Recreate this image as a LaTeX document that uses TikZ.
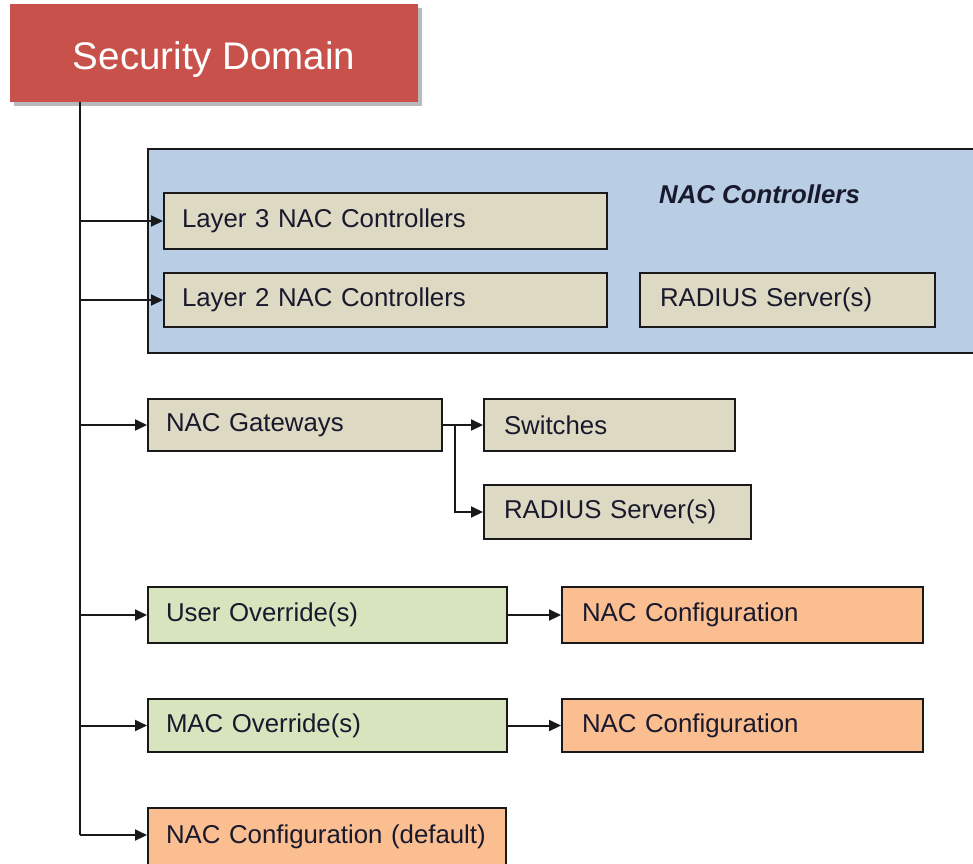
\documentclass[tikz,border=0pt]{standalone}
\usepackage{fontspec}
\setmainfont{Liberation Sans}
\usetikzlibrary{arrows.meta,shadows,calc}

\definecolor{domainred}{RGB}{200,82,75}
\definecolor{ctlblue}{RGB}{185,205,229}
\definecolor{tan}{RGB}{221,217,195}
\definecolor{lightgreen}{RGB}{215,228,189}
\definecolor{peach}{RGB}{250,190,145}
\definecolor{ink}{RGB}{25,25,45}

\begin{document}
\begin{tikzpicture}[x=1pt,y=-1pt,
  every node/.style={font=\fontsize{25.8}{28}\selectfont, text=ink},
  box/.style={draw=black!90, line width=2pt, anchor=north west,
    align=left, inner ysep=0pt, inner xsep=18pt},
  conn/.style={line width=2pt, draw=black!90,
    -{Triangle[length=12pt,width=11pt]}},
  line/.style={line width=2pt, draw=black!90}]

\useasboundingbox (0,0) rectangle (973,863);

% top-level domain
\node[draw=none, fill=domainred, anchor=north west, minimum width=408pt,
  minimum height=98pt, inner sep=0pt, text depth=0pt,
  drop shadow={shadow xshift=4pt, shadow yshift=-4pt, opacity=0.45, fill=black!60},
  text=white, font=\fontsize{38.5}{40}\selectfont] (sd) at (10,4) {\raisebox{-4pt}{Security Domain}};

% controller group
\node[draw=black!90, line width=2pt, fill=ctlblue, anchor=north west,
  minimum width=840pt, minimum height=204pt, inner sep=0pt] (ctl) at (147,148) {};
\node[anchor=west, inner sep=0pt, font=\fontsize{25.8}{28}\selectfont\bfseries\itshape]
  (ctltitle) at (659,194) {NAC Controllers};

\node[box, fill=tan, text width=407pt, minimum height=56pt] (l3) at (163,192) {Layer 3 NAC Controllers};
\node[box, fill=tan, text width=407pt, minimum height=54pt] (l2) at (163,272) {Layer 2 NAC Controllers};
\node[box, fill=tan, inner xsep=20pt, text width=255pt, minimum height=54pt] (rad1) at (639,272) {RADIUS Server(s)};

% gateways
\node[box, fill=tan, text width=258pt, minimum height=52pt] (gw) at (147,398) {NAC Gateways};
\node[box, fill=tan, inner xsep=20pt, text width=211pt, minimum height=52pt] (sw) at (483,398) {Switches};
\node[box, fill=tan, inner xsep=20pt, text width=227pt, minimum height=54pt] (rad2) at (483,484) {RADIUS Server(s)};

% overrides
\node[box, fill=lightgreen, text width=323pt, minimum height=56pt] (uo) at (147,586) {User Override(s)};
\node[box, fill=peach, inner xsep=20pt, text width=321pt, minimum height=56pt] (nc1) at (561,586) {NAC Configuration};
\node[box, fill=lightgreen, text width=323pt, minimum height=53pt] (mo) at (147,698) {MAC Override(s)};
\node[box, fill=peach, inner xsep=20pt, text width=321pt, minimum height=53pt] (nc2) at (561,698) {NAC Configuration};

% default configuration (runs past the lower edge)
\node[box, fill=peach, text width=322pt, minimum height=58pt] (ncd) at (147,807) {NAC Configuration (default)};

% trunk and branches
\coordinate (trunk) at (80,0);
\draw[line] (trunk |- sd.south) -- (trunk |- 0,835);
\draw[conn] (trunk |- l3.west) -- (l3.west);
\draw[conn] (trunk |- l2.west) -- (l2.west);
\draw[conn] (trunk |- gw.west) -- (gw.west);
\draw[conn] (trunk |- uo.west) -- (uo.west);
\draw[conn] (trunk |- mo.west) -- (mo.west);
\draw[conn] (trunk |- 0,835) -- (ncd.west |- 0,835);

% gateway fan-out
\coordinate (split) at ($(gw.east)+(12,0)$);
\draw[conn] (gw.east) -- (sw.west);
\draw[conn] (split) |- (rad2.west);

% overrides to configurations
\draw[conn] (uo.east) -- (nc1.west);
\draw[conn] (mo.east) -- (nc2.west);

\end{tikzpicture}
\end{document}
